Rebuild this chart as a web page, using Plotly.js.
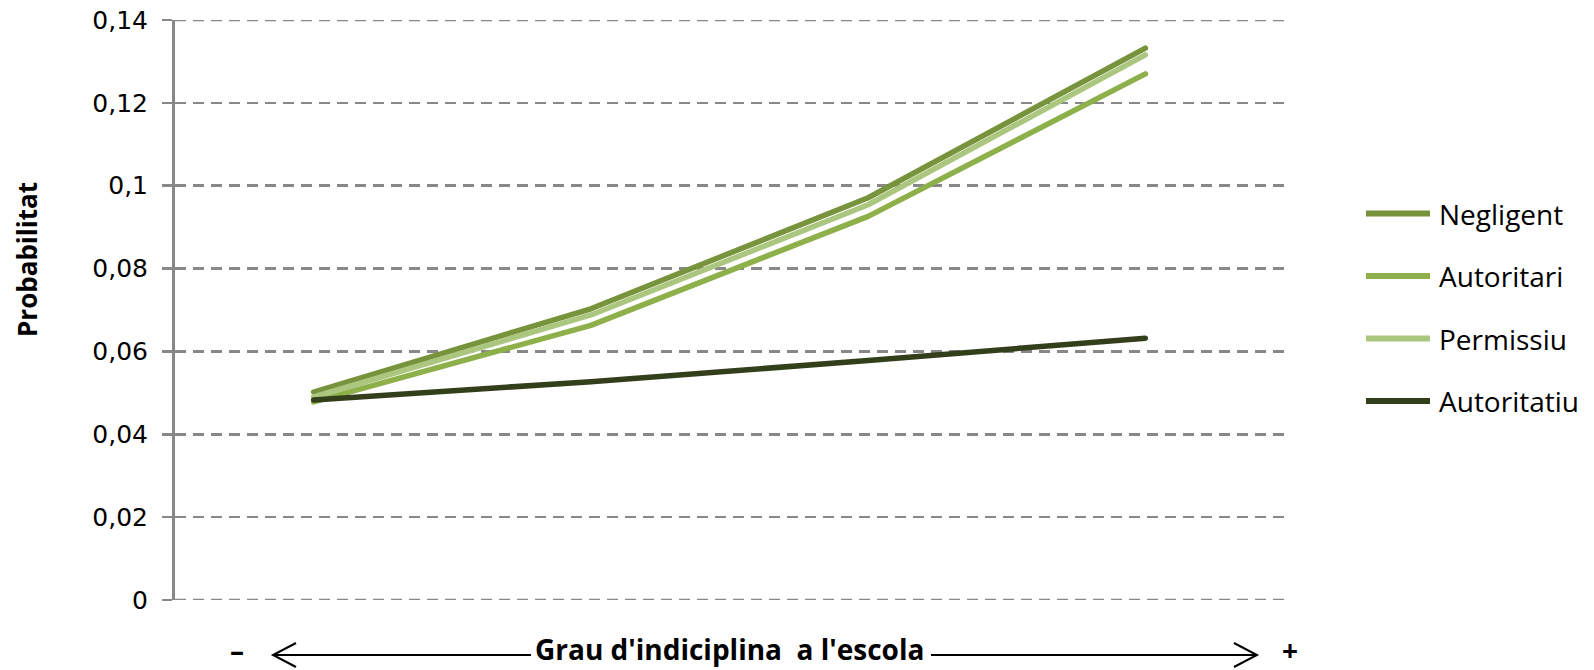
<!DOCTYPE html>
<html><head><meta charset="utf-8">
<script src="https://cdn.plot.ly/plotly-3.0.1.min.js"></script>
<style>
html,body{margin:0;padding:0;background:#fff;}
#chart{width:1594px;height:670px;}
.scatterlayer path.js-line{stroke-linecap:round;stroke-linejoin:round;}
</style></head><body><div id="chart"></div>
<script>
// ---- data ----
const categories = [1, 2, 3, 4];
const seriesNames = ['Negligent', 'Autoritari', 'Permissiu', 'Autoritatiu'];
const negligent   = [0.0502, 0.0703, 0.0971, 0.1332];
const autoritari  = [0.0478, 0.0663, 0.0926, 0.1270];
const permissiu   = [0.0490, 0.0688, 0.0954, 0.1316];
const autoritatiu = [0.0483, 0.0527, 0.0578, 0.0632];
const yTickVals = [0, 0.02, 0.04, 0.06, 0.08, 0.1, 0.12, 0.14];
const yTickText = ['0', '0,02', '0,04', '0,06', '0,08', '0,1', '0,12', '0,14'];
const yTitle = 'Probabilitat';
const xTitle = "Grau d'indiciplina\u00a0 a l'escola";
const lowLabel = '–';
const highLabel = '+';

// ---- styles ----
const colors = ['#77933C', '#8DB04A', '#ABC67F', '#333F1B'];
const values = [negligent, autoritari, permissiu, autoritatiu];
const gridColor = '#888888';
const L = 175, R = 1284, T = 20, B = 600;
const X = px => (px - L) / (R - L);
const Y = py => (B - py) / (B - T);

const traces = values.map((v, i) => ({
  type: 'scatter', mode: 'lines', x: categories, y: v, name: seriesNames[i],
  line: {color: colors[i], width: 5.5}, hoverinfo: 'skip'
}));

const font = 'Open Sans, sans-serif';
const annotations = [
  {text: '<b>' + yTitle + '</b>', xref: 'paper', yref: 'paper', x: X(27), y: Y(260),
   xanchor: 'center', yanchor: 'middle', textangle: -90, showarrow: false,
   font: {family: font, size: 26, color: '#000'}},
  {text: '<b>' + xTitle + '</b>', xref: 'paper', yref: 'paper', x: X(729), y: Y(649),
   xanchor: 'center', yanchor: 'middle', showarrow: false,
   font: {family: font, size: 28, color: '#000'}},
  {text: '<b>' + lowLabel + '</b>', xref: 'paper', yref: 'paper', x: X(237), y: Y(650),
   xanchor: 'center', yanchor: 'middle', showarrow: false,
   font: {family: font, size: 28, color: '#000'}},
  {text: '<b>' + highLabel + '</b>', xref: 'paper', yref: 'paper', x: X(1290), y: Y(650),
   xanchor: 'center', yanchor: 'middle', showarrow: false,
   font: {family: font, size: 28, color: '#000'}}
];
const shapes = [];
// gridlines at the two edges of the value axis
[yTickVals[0], yTickVals[yTickVals.length - 1]].forEach(v => {
  shapes.push({type: 'line', xref: 'paper', yref: 'y', x0: 0, x1: 1, y0: v, y1: v,
    layer: 'below', line: {color: gridColor, width: 2.5, dash: '11px,7px'}});
});
seriesNames.forEach((n, i) => {
  const ry = 213.5 + 62.5 * i;
  annotations.push({text: n, xref: 'paper', yref: 'paper', x: X(1437), y: Y(ry),
    xanchor: 'left', yanchor: 'middle', showarrow: false,
    font: {family: font, size: 28, color: '#000'}});
  shapes.push({type: 'line', xref: 'paper', yref: 'paper', x0: X(1366), x1: X(1430),
    y0: Y(ry), y1: Y(ry), line: {color: colors[i], width: 6}});
});
// arrow
const ay = 655;
const arrowLine = {color: '#000', width: 2};
shapes.push({type: 'line', xref: 'paper', yref: 'paper', x0: X(273), x1: X(531), y0: Y(ay), y1: Y(ay), line: arrowLine});
shapes.push({type: 'line', xref: 'paper', yref: 'paper', x0: X(931), x1: X(1257), y0: Y(ay), y1: Y(ay), line: arrowLine});
shapes.push({type: 'path', xref: 'paper', yref: 'paper',
  path: `M${X(296)},${Y(ay-12)} L${X(273)},${Y(ay)} L${X(296)},${Y(ay+12)}`, line: arrowLine});
shapes.push({type: 'path', xref: 'paper', yref: 'paper',
  path: `M${X(1234)},${Y(ay-12)} L${X(1257)},${Y(ay)} L${X(1234)},${Y(ay+12)}`, line: arrowLine});

const layout = {
  width: 1594, height: 670,
  margin: {l: L, r: 1594 - R, t: T, b: 670 - B, pad: 0},
  paper_bgcolor: '#fff', plot_bgcolor: '#fff',
  showlegend: false,
  separators: ',.',
  xaxis: {range: [0.5, 4.5], showgrid: false, showticklabels: false, ticks: '',
          zeroline: false, showline: false, fixedrange: true},
  yaxis: {range: [0, 0.14], tickvals: yTickVals, ticktext: yTickText,
          showgrid: true, gridcolor: gridColor, gridwidth: 2.5, griddash: '11px,7px',
          zeroline: false, showline: true, linecolor: gridColor, linewidth: 3,
          ticks: 'outside', ticklen: 10, tickwidth: 2.5, tickcolor: gridColor,
          ticklabelstandoff: 9,
          tickfont: {family: 'DejaVu Sans, sans-serif', size: 25, color: '#000'}, fixedrange: true},
  annotations: annotations,
  shapes: shapes
};
Plotly.newPlot('chart', traces, layout, {staticPlot: true, displayModeBar: false});
</script>
</body></html>
